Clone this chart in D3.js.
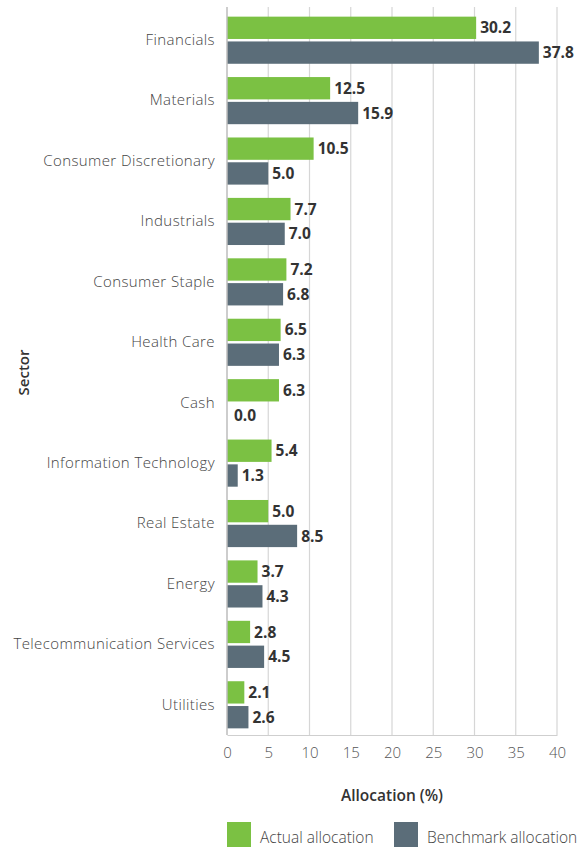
<!DOCTYPE html>
<html>
<head>
<meta charset="utf-8">
<script src="https://cdn.jsdelivr.net/npm/d3@7"></script>
<style>
  html, body { margin: 0; padding: 0; background: #fff; }
  svg { display: block; font-family: "Open Sans", "Noto Sans", sans-serif; }
</style>
</head>
<body>
<svg id="chart" width="585" height="847"></svg>
<script>
// Sector allocation: fund vs benchmark (%)
const sectors = [
  "Financials", "Materials", "Consumer Discretionary", "Industrials",
  "Consumer Staple", "Health Care", "Cash", "Information Technology",
  "Real Estate", "Energy", "Telecommunication Services", "Utilities"
];
const actual    = [30.2, 12.5, 10.5, 7.7, 7.2, 6.5, 6.3, 5.4, 5.0, 3.7, 2.8, 2.1];
const benchmark = [37.8, 15.9, 5.0, 7.0, 6.8, 6.3, 0.0, 1.3, 8.5, 4.3, 4.5, 2.6];
const seriesNames = ["Actual allocation", "Benchmark allocation"];
const xTicks = [0, 5, 10, 15, 20, 25, 30, 35, 40];

const colors = ["#7bc143", "#5b6d79"];
const svg = d3.select("#chart");

const margin = { top: 10, left: 227, right: 28, bottom: 112 };
const W = 585, H = 847;
const plotW = W - margin.left - margin.right;
const plotH = H - margin.top - margin.bottom;

const x = d3.scaleLinear().domain([0, 40]).range([0, plotW]);
const y = d3.scaleBand().domain(sectors).range([0, plotH]).paddingInner(0.22).paddingOuter(0.11);
const sub = d3.scaleBand().domain([0, 1]).range([0, y.bandwidth()]).paddingInner(0.1);

const g = svg.append("g").attr("transform", `translate(${margin.left},${margin.top})`);

// vertical grid lines
g.append("g").selectAll("line").data(xTicks.slice(1)).join("line")
  .attr("x1", d => x(d)).attr("x2", d => x(d))
  .attr("y1", -3).attr("y2", plotH)
  .attr("stroke", "#d6d6d6").attr("stroke-width", 1.2);

// bars
const groups = g.selectAll("g.sector").data(sectors).join("g")
  .attr("class", "sector")
  .attr("transform", d => `translate(0,${y(d)})`);

[actual, benchmark].forEach((vals, si) => {
  groups.append("rect")
    .attr("x", 0)
    .attr("y", sub(si))
    .attr("width", (d, i) => x(vals[i]))
    .attr("height", sub.bandwidth())
    .attr("fill", colors[si]);

  groups.append("text")
    .attr("x", (d, i) => x(vals[i]) + (vals[i] < 1 ? 7 : 4))
    .attr("y", sub(si) + sub.bandwidth() / 2)
    .attr("dy", "0.36em")
    .attr("font-size", 15.5)
    .attr("font-weight", 700)
    .attr("fill", "#333")
    .text((d, i) => vals[i].toFixed(1));
});

// category axis
const yAxis = g.append("g").call(d3.axisLeft(y).tickSize(0).tickPadding(12));
yAxis.select(".domain").attr("stroke", "#bdbdbd").attr("stroke-width", 1.5).attr("d", `M0,-3V${plotH}`);
yAxis.selectAll("text").attr("font-size", 15).attr("letter-spacing", 0.4)
  .attr("fill", "#444").attr("font-weight", 300)
  .attr("font-family", "'Open Sans', sans-serif");

// value axis
const xAxis = g.append("g").attr("transform", `translate(0,${plotH})`)
  .call(d3.axisBottom(x).tickValues(xTicks).tickSize(0).tickPadding(12));
xAxis.select(".domain").attr("stroke", "#cfcfcf").attr("stroke-width", 1.2);
xAxis.selectAll("text").attr("font-size", 15).attr("fill", "#555").attr("font-weight", 300)
  .attr("font-family", "'Open Sans', sans-serif");

// axis titles
svg.append("text")
  .attr("x", margin.left + plotW / 2).attr("y", 801)
  .attr("text-anchor", "middle").attr("font-size", 15.5).attr("font-weight", 600).attr("fill", "#333")
  .text("Allocation (%)");

svg.append("text")
  .attr("transform", `translate(29,${margin.top + plotH / 2}) rotate(-90)`)
  .attr("text-anchor", "middle").attr("font-size", 15).attr("font-weight", 600).attr("fill", "#333")
  .text("Sector");

// legend
const legendX = [227, 394];
const legend = svg.append("g").selectAll("g").data(seriesNames).join("g")
  .attr("transform", (d, i) => `translate(${legendX[i]},822)`);
legend.append("rect").attr("width", 24).attr("height", 25).attr("fill", (d, i) => colors[i]);
legend.append("text").attr("x", 33).attr("y", 21)
  .attr("font-size", 15.5).attr("font-weight", 300).attr("fill", "#444")
  .text(d => d);
</script>
</body>
</html>
